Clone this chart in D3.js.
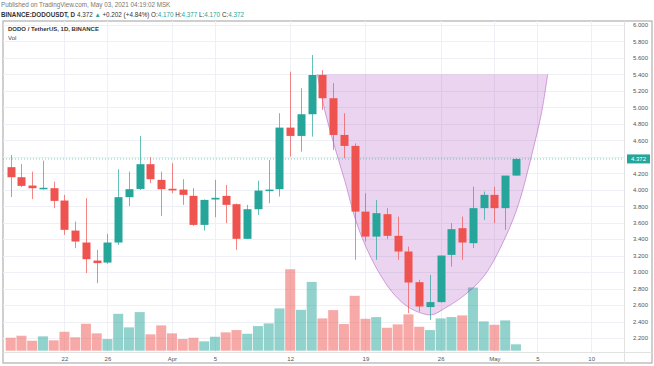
<!DOCTYPE html>
<html>
<head>
<meta charset="utf-8">
<script src="https://cdn.jsdelivr.net/npm/d3@7"></script>
<style>
  body { margin: 0; background: #fff; }
  svg { display: block; font-family: "Liberation Sans", Arial, sans-serif; }
</style>
</head>
<body>
<div id="chart"></div>
<script>
// daily candles, DODO/USDT
const dates = ["2021-03-17","2021-03-18","2021-03-19","2021-03-20","2021-03-21","2021-03-22","2021-03-23","2021-03-24",
  "2021-03-25","2021-03-26","2021-03-27","2021-03-28","2021-03-29","2021-03-30","2021-03-31","2021-04-01",
  "2021-04-02","2021-04-03","2021-04-04","2021-04-05","2021-04-06","2021-04-07","2021-04-08","2021-04-09",
  "2021-04-10","2021-04-11","2021-04-12","2021-04-13","2021-04-14","2021-04-15","2021-04-16","2021-04-17",
  "2021-04-18","2021-04-19","2021-04-20","2021-04-21","2021-04-22","2021-04-23","2021-04-24","2021-04-25",
  "2021-04-26","2021-04-27","2021-04-28","2021-04-29","2021-04-30","2021-05-01","2021-05-02","2021-05-03"];
const opens = [4.272,4.150,4.049,4.010,4.017,3.867,3.503,3.358,3.139,3.115,3.358,3.908,4.008,4.308,4.118,4.010,
  4.000,3.924,3.572,3.880,3.924,3.823,3.403,3.762,3.990,4.005,4.752,4.651,4.914,5.390,5.108,4.663,
  4.530,3.733,3.430,3.702,3.439,3.249,2.877,2.575,2.635,3.208,3.532,3.350,3.775,3.936,3.775,4.170];
const highs = [4.420,4.310,4.218,4.352,4.097,3.936,3.612,3.896,3.269,3.463,4.247,4.218,4.650,4.393,4.218,4.320,
  4.126,4.017,3.880,4.118,4.057,3.830,3.815,4.109,4.360,4.926,5.430,5.229,5.633,5.450,5.290,4.926,
  4.560,3.956,3.875,3.775,3.673,3.309,2.906,2.966,3.200,3.593,3.673,4.036,3.976,4.036,4.130,4.377];
const lows = [3.910,4.030,3.884,4.000,3.775,3.451,3.290,2.987,2.865,3.100,3.330,3.800,3.995,4.078,3.681,3.956,
  3.815,3.560,3.503,3.665,3.593,3.269,3.400,3.693,3.835,3.915,4.400,4.461,4.642,4.966,4.481,4.380,
  3.148,3.370,3.148,3.400,3.148,2.502,2.520,2.420,2.630,3.067,3.148,3.290,3.633,3.593,3.512,4.170];
const closes = [4.150,4.045,4.017,4.022,3.863,3.512,3.370,3.156,3.108,3.358,3.908,4.005,4.308,4.126,4.005,3.990,
  3.936,3.572,3.875,3.900,3.815,3.403,3.762,3.988,4.000,4.752,4.651,4.914,5.390,5.108,4.663,4.530,
  3.733,3.430,3.714,3.439,3.249,2.873,2.582,2.635,3.200,3.520,3.358,3.775,3.936,3.775,4.170,4.372];
// volume, millions
const volumes = [1.30,1.50,1.00,1.44,1.04,1.90,1.34,2.70,1.74,1.17,3.70,2.34,3.87,1.64,2.54,1.74,
  1.17,1.30,0.94,1.40,1.84,2.07,1.70,2.47,2.74,4.24,8.17,4.10,6.90,3.24,4.07,2.67,
  5.50,3.20,3.37,2.30,2.64,3.64,2.40,2.07,3.24,3.37,3.54,6.34,2.94,2.60,3.04,0.64];

const priceTicks = d3.range(2.2, 6.001, 0.2);
const timeTicks = ["2021-03-22","2021-03-26","2021-04-01","2021-04-05","2021-04-12","2021-04-19","2021-04-26","2021-05-01","2021-05-05","2021-05-10"];
const timeLabels = ["22","26","Apr","5","12","19","26","May","5","10"];

// cup drawing: days after Mar 17, price
const cupDays = [28.52,29.24,30.17,31.10,32.03,32.96,34.20,35.44,36.68,37.92,39.16,40.40,42.26,44.12,45.98,47.22,48.47,49.40,49.95];
const cupPrices = [5.399,4.945,4.502,4.097,3.653,3.330,3.006,2.764,2.602,2.514,2.481,2.562,2.724,2.967,3.411,3.815,4.421,4.945,5.399];

const lastPrice = 4.372;

const width = 654, height = 366;
const plot = {left: 3, right: 624, top: 21, bottom: 352};
const up = "#26a69a", down = "#ef5350";

const parse = d3.utcParse("%Y-%m-%d");
const t0 = parse(dates[0]);
const day = 864e5;

const x = d3.scaleUtc()
  .domain([t0, parse("2021-05-10")])
  .range([10.7, 591.2]);
const y = d3.scaleLinear().domain([2.2, 6.0]).range([338, 24.7]);
const yVol = d3.scaleLinear().domain([0, 10]).range([350.7, 251]);

const candles = dates.map((d, i) => ({
  date: parse(d), o: opens[i], h: highs[i], l: lows[i], c: closes[i], v: volumes[i]
}));

const svg = d3.select("#chart").append("svg")
  .attr("width", width).attr("height", height);

svg.append("rect").attr("width", width).attr("height", height).attr("fill", "#fff");

svg.append("defs").append("clipPath").attr("id", "plotclip")
  .append("rect")
  .attr("x", plot.left).attr("y", plot.top)
  .attr("width", plot.right - plot.left).attr("height", plot.bottom - plot.top);

// header
svg.append("text").attr("x", 1).attr("y", 7)
  .attr("font-size", 6.3).attr("fill", "#777")
  .text("Published on TradingView.com, May 03, 2021 04:19:02 MSK");

const hdr = svg.append("text").attr("x", 1).attr("y", 16.5).attr("font-size", 6.3).attr("fill", "#333");
hdr.append("tspan").attr("font-weight", "bold").text("BINANCE:DODOUSDT, D ");
hdr.append("tspan").text(" 4.372 ");
hdr.append("tspan").attr("fill", up).text("▲");
hdr.append("tspan").text(" +0.202 (+4.84%) ");
[["O:", "4.170"], ["H:", "4.377"], ["L:", "4.170"], ["C:", "4.372"]].forEach(p => {
  hdr.append("tspan").text(p[0]);
  hdr.append("tspan").attr("fill", up).text(p[1] + " ");
});

// frame
svg.append("rect")
  .attr("x", 3).attr("y", 21).attr("width", 649).attr("height", 342)
  .attr("fill", "none").attr("stroke", "#b0b0b0").attr("stroke-width", 1.2);

const g = svg.append("g").attr("clip-path", "url(#plotclip)");

// grid
g.selectAll("line.hgrid").data(priceTicks).enter().append("line")
  .attr("x1", plot.left).attr("x2", plot.right)
  .attr("y1", d => Math.round(y(d)) + 0.5).attr("y2", d => Math.round(y(d)) + 0.5)
  .attr("stroke", "#eef0f5");
g.selectAll("line.vgrid").data(timeTicks).enter().append("line")
  .attr("x1", d => Math.round(x(parse(d))) + 0.5).attr("x2", d => Math.round(x(parse(d))) + 0.5)
  .attr("y1", plot.top).attr("y2", plot.bottom)
  .attr("stroke", "#eef0f5");

// volume
g.selectAll("rect.vol").data(candles).enter().append("rect")
  .attr("x", d => x(d.date) - 5)
  .attr("width", 10)
  .attr("y", d => yVol(d.v))
  .attr("height", d => yVol(0) - yVol(d.v))
  .attr("fill", d => d.c >= d.o ? up : down)
  .attr("fill-opacity", 0.5);

// cup
const cupPts = cupDays.map((d, i) => [x(new Date(t0.getTime() + d * day)), y(cupPrices[i])]);
const cupLine = d3.line().curve(d3.curveCatmullRom);
g.append("path")
  .attr("d", cupLine(cupPts) + "Z")
  .attr("fill", "#9c27b0").attr("fill-opacity", 0.2).attr("stroke", "none");
g.append("path")
  .attr("d", cupLine(cupPts))
  .attr("fill", "none").attr("stroke", "#9c27b0").attr("stroke-opacity", 0.4).attr("stroke-width", 1);

// last price line
g.append("line")
  .attr("x1", plot.left).attr("x2", plot.right)
  .attr("y1", y(lastPrice)).attr("y2", y(lastPrice))
  .attr("stroke", up).attr("stroke-opacity", 0.6).attr("stroke-dasharray", "1,2");

// candles
const cg = g.selectAll("g.candle").data(candles).enter().append("g");
cg.append("line")
  .attr("x1", d => Math.round(x(d.date)) + 0.5).attr("x2", d => Math.round(x(d.date)) + 0.5)
  .attr("y1", d => y(d.h)).attr("y2", d => y(d.l))
  .attr("stroke", d => d.c >= d.o ? up : down)
  .attr("stroke-opacity", 0.7);
cg.append("rect")
  .attr("x", d => Math.round(x(d.date)) - 3.5)
  .attr("width", 8)
  .attr("y", d => y(Math.max(d.o, d.c)))
  .attr("height", d => Math.max(1.5, Math.abs(y(d.o) - y(d.c))))
  .attr("fill", d => d.c >= d.o ? up : down);

// legend text
svg.append("text").attr("x", 8).attr("y", 31).attr("font-size", 6).attr("font-weight", "bold")
  .attr("fill", "#333").text("DODO / TetherUS, 1D, BINANCE");
svg.append("text").attr("x", 8).attr("y", 40).attr("font-size", 6).attr("fill", "#444").text("Vol");

// price axis (labels hidden where the last-price tag sits)
svg.append("line").attr("x1", plot.right + 0.5).attr("x2", plot.right + 0.5)
  .attr("y1", plot.top).attr("y2", 363).attr("stroke", "#e2e2e2");
const shownTicks = priceTicks.filter(p => Math.abs(y(p) - y(lastPrice)) > 8);
const yAxis = svg.append("g")
  .attr("transform", "translate(" + plot.right + ",0)")
  .call(d3.axisRight(y).tickValues(shownTicks).tickFormat(d3.format(".3f")).tickSize(0).tickPadding(9));
yAxis.select(".domain").remove();
yAxis.selectAll("text").attr("font-size", 6).attr("fill", "#555").attr("font-family", "Liberation Sans, Arial, sans-serif");

// last price label
svg.append("rect").attr("x", 627).attr("y", y(lastPrice) - 4.5).attr("width", 23).attr("height", 9)
  .attr("fill", up);
svg.append("text").attr("x", 638.5).attr("y", y(lastPrice) + 2.2).attr("text-anchor", "middle")
  .attr("font-size", 6).attr("fill", "#fff").text(lastPrice.toFixed(3));

// time axis
svg.append("line").attr("x1", plot.left).attr("x2", 652)
  .attr("y1", plot.bottom + 0.5).attr("y2", plot.bottom + 0.5).attr("stroke", "#e2e2e2");
const xAxis = svg.append("g")
  .attr("transform", "translate(0," + plot.bottom + ")")
  .call(d3.axisBottom(x).tickValues(timeTicks.map(parse))
    .tickFormat((d, i) => timeLabels[i]).tickSize(0).tickPadding(5));
xAxis.select(".domain").remove();
xAxis.selectAll("text").attr("font-size", 6).attr("fill", "#555").attr("font-family", "Liberation Sans, Arial, sans-serif");
</script>
</body>
</html>
